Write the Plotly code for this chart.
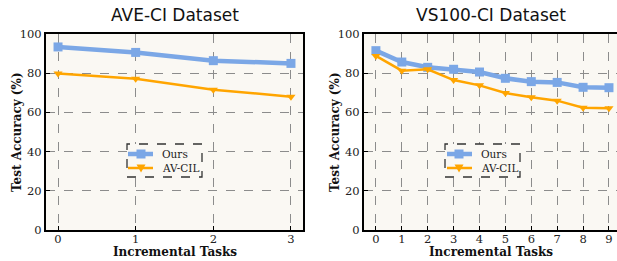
import plotly.graph_objects as go

tasks_ave = [0, 1, 2, 3]
ours_ave = [93.4, 90.6, 86.4, 85.0]
avcil_ave = [79.9, 77.2, 71.6, 68.0]

tasks_vs = [0, 1, 2, 3, 4, 5, 6, 7, 8, 9]
ours_vs = [91.5, 85.7, 83.0, 82.0, 80.6, 77.4, 75.7, 75.3, 72.8, 72.6]
avcil_vs = [88.8, 81.3, 82.0, 76.5, 73.8, 69.9, 67.7, 66.0, 62.4, 62.1]

titles = ["AVE-CI Dataset", "VS100-CI Dataset"]
series_names = ["Ours", "AV-CIL"]
y_ticks = [0, 20, 40, 60, 80, 100]

BLUE = "#7ba7e6"
ORANGE = "#ffa500"
BG = "#faf8f3"
SERIF = "DejaVu Serif"

W, H = 617, 261
ML, MR, MT, MB = 46, 0, 34, 31
pw = W - ML - MR
ph = H - MT - MB
dom1 = [0, (303 - ML) / pw]
dom2 = [(364 - ML) / pw, 1.0]


def px(xpix):
    return (xpix - ML) / pw


def py(ypix):
    return (H - MB - ypix) / ph


fig = go.Figure()


def add_pair(x, ours, avcil, xa, ya):
    fig.add_trace(go.Scatter(x=x, y=ours, mode="lines+markers", name=series_names[0],
                             line=dict(color=BLUE, width=4.5),
                             marker=dict(symbol="square", size=9, color=BLUE),
                             xaxis=xa, yaxis=ya, showlegend=False))
    fig.add_trace(go.Scatter(x=x, y=avcil, mode="lines+markers", name=series_names[1],
                             line=dict(color=ORANGE, width=2.5),
                             marker=dict(symbol="triangle-down", size=8, color=ORANGE),
                             xaxis=xa, yaxis=ya, showlegend=False))


add_pair(tasks_ave, ours_ave, avcil_ave, "x", "y")
add_pair(tasks_vs, ours_vs, avcil_vs, "x2", "y2")

axis_common = dict(showgrid=True, gridcolor="#8c8c8c", griddash="dash", gridwidth=1,
                   ticks="inside", ticklen=4, tickwidth=1, tickcolor="black",
                   showline=True, linecolor="black", linewidth=2,
                   tickfont=dict(family=SERIF, size=11.5, color="#222"),
                   zeroline=False, automargin=False)

fig.update_layout(
    template="none",
    width=W, height=H,
    margin=dict(l=ML, r=MR, t=MT, b=MB, pad=0),
    paper_bgcolor="white", plot_bgcolor=BG,
    showlegend=False,
    xaxis=dict(domain=dom1, range=[-0.155, 3.155], tickvals=tasks_ave, mirror=True,
               anchor="y", ticklabelstandoff=-3, **axis_common),
    yaxis=dict(domain=[0, 1], range=[0, 100], tickvals=y_ticks, mirror=True,
               anchor="x", **axis_common),
    xaxis2=dict(domain=dom2, range=[-0.46, 9.31], tickvals=tasks_vs, mirror=True,
                anchor="y2", ticklabelstandoff=-3, **axis_common),
    yaxis2=dict(domain=[0, 1], range=[0, 100], tickvals=y_ticks, mirror=False,
                anchor="x2", **axis_common),
)

# manual legends (box, sample line, sample marker, label)
legend_boxes = [(127, 202, 128, 153, 141, 160), (445, 520, 447, 472, 459, 479)]
for bx0, bx1, lx0, lx1, mx, tx in legend_boxes:
    fig.add_shape(type="rect", xref="paper", yref="paper",
                  x0=px(bx0), x1=px(bx1), y0=py(177), y1=py(144),
                  line=dict(color="#333", width=1.3, dash="dash"),
                  fillcolor=BG, layer="above")
    for k, (yy, col, wid) in enumerate([(154, BLUE, 4.5), (168, ORANGE, 2.5)]):
        fig.add_shape(type="line", xref="paper", yref="paper",
                      x0=px(lx0), x1=px(lx1), y0=py(yy), y1=py(yy),
                      line=dict(color=col, width=wid), layer="above")
        if k == 0:
            fig.add_shape(type="rect", xref="paper", yref="paper",
                          x0=px(mx - 4.5), x1=px(mx + 4.5), y0=py(yy + 4.5), y1=py(yy - 4.5),
                          line=dict(width=0), fillcolor=BLUE, layer="above")
        else:
            path = "M {a},{b} L {c},{b} L {d},{e} Z".format(
                a=px(mx - 4.5), b=py(yy - 3.5), c=px(mx + 4.5), d=px(mx), e=py(yy + 4.5))
            fig.add_shape(type="path", xref="paper", yref="paper", path=path,
                          line=dict(width=0), fillcolor=ORANGE, layer="above")
        fig.add_annotation(text=series_names[k], xref="paper", yref="paper",
                           x=px(tx), y=py(yy), xanchor="left", yanchor="middle",
                           showarrow=False,
                           font=dict(family=SERIF, size=10.5, color="#222"))

# titles
for dom, t in zip([dom1, dom2], titles):
    cx = (dom[0] + dom[1]) / 2
    fig.add_annotation(text=t, xref="paper", yref="paper", x=cx, xanchor="center",
                       y=1, yshift=19, showarrow=False, yanchor="middle",
                       font=dict(family="DejaVu Sans", size=17, color="#111"))
    fig.add_annotation(text="<b>Incremental Tasks</b>", xref="paper", yref="paper",
                       x=cx, xanchor="center", y=0, yshift=-22, showarrow=False,
                       yanchor="middle",
                       font=dict(family=SERIF, size=12, color="#111"))
    fig.add_annotation(text="<b>Test Accuracy (%)</b>", xref="paper", yref="paper",
                       x=dom[0], xshift=-29, y=0.5, textangle=-90, showarrow=False,
                       xanchor="center", yanchor="middle",
                       font=dict(family=SERIF, size=12, color="#111"))

fig.write_html("out.html", config={"displayModeBar": False},
               post_script="document.body.style.margin='0';document.body.style.overflow='hidden';")
